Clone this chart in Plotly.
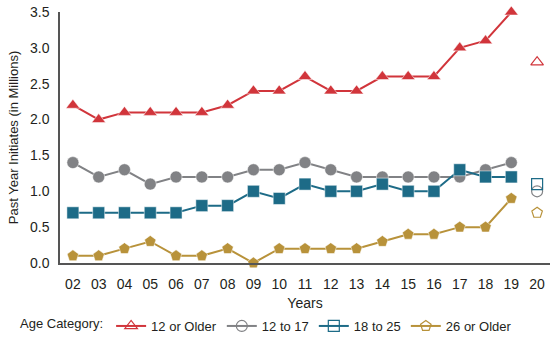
import plotly.graph_objects as go

years = ["02","03","04","05","06","07","08","09","10","11","12","13","14","15","16","17","18","19"]
year_2020 = "20"

older12 = [2.2, 2.0, 2.1, 2.1, 2.1, 2.1, 2.2, 2.4, 2.4, 2.6, 2.4, 2.4, 2.6, 2.6, 2.6, 3.0, 3.1, 3.5]
age12_17 = [1.4, 1.2, 1.3, 1.1, 1.2, 1.2, 1.2, 1.3, 1.3, 1.4, 1.3, 1.2, 1.2, 1.2, 1.2, 1.2, 1.3, 1.4]
age18_25 = [0.7, 0.7, 0.7, 0.7, 0.7, 0.8, 0.8, 1.0, 0.9, 1.1, 1.0, 1.0, 1.1, 1.0, 1.0, 1.3, 1.2, 1.2]
older26 = [0.1, 0.1, 0.2, 0.3, 0.1, 0.1, 0.2, 0.0, 0.2, 0.2, 0.2, 0.2, 0.3, 0.4, 0.4, 0.5, 0.5, 0.9]

val2020 = {"12 or Older": 2.8, "12 to 17": 1.0, "18 to 25": 1.1, "26 or Older": 0.7}

series = [
    ("12 or Older", older12, "#d1353b", "triangle-up"),
    ("12 to 17", age12_17, "#818285", "circle"),
    ("18 to 25", age18_25, "#1d6b87", "square"),
    ("26 or Older", older26, "#b8923a", "pentagon"),
]

FONT = "Liberation Sans, Arial, sans-serif"

fig = go.Figure()
for name, vals, color, sym in series:
    fig.add_trace(go.Scatter(
        x=years, y=vals, mode="lines+markers", name=name, showlegend=False,
        line=dict(color=color, width=2),
        marker=dict(symbol=sym, size=12, color=color, line=dict(color="white", width=0.5)),
        cliponaxis=False,
    ))
for name, vals, color, sym in series:
    fig.add_trace(go.Scatter(
        x=[year_2020], y=[val2020[name]], mode="lines+markers", name=name,
        line=dict(color=color, width=2),
        marker=dict(symbol=sym + "-open", size=11, color=color, line=dict(width=1.2)),
        cliponaxis=False,
    ))

fig.update_layout(
    width=555, height=342,
    margin=dict(l=60, r=5, t=12, b=79, autoexpand=False),
    paper_bgcolor="white", plot_bgcolor="white",
    font=dict(family=FONT, size=14, color="#231f20"),
    xaxis=dict(
        type="category", categoryorder="array", categoryarray=years + [year_2020],
        range=[-0.5, 18.5], showline=True, linecolor="#555555", linewidth=1.5,
        showgrid=False, ticks="", ticklabelstandoff=7,
        title=dict(text="Years", standoff=12, font=dict(size=14)),
        tickfont=dict(size=14),
    ),
    yaxis=dict(
        range=[0, 3.5], tickvals=[0, 0.5, 1, 1.5, 2, 2.5, 3, 3.5],
        tickformat=".1f", showline=True, linecolor="#555555", linewidth=1.5,
        showgrid=False, zeroline=False, ticks="", ticklabelstandoff=6,
        title=dict(text="Past Year Initiates (in Millions)", standoff=8, font=dict(size=13)),
        tickfont=dict(size=14),
    ),
    legend=dict(
        orientation="h", xref="container", x=18/555, xanchor="left",
        yref="container", y=1 - 326/342, yanchor="middle",
        title=dict(text="Age Category:", font=dict(size=13)),
        font=dict(size=13), itemwidth=30, tracegroupgap=0,
    ),
)

fig.write_html("out.html")
